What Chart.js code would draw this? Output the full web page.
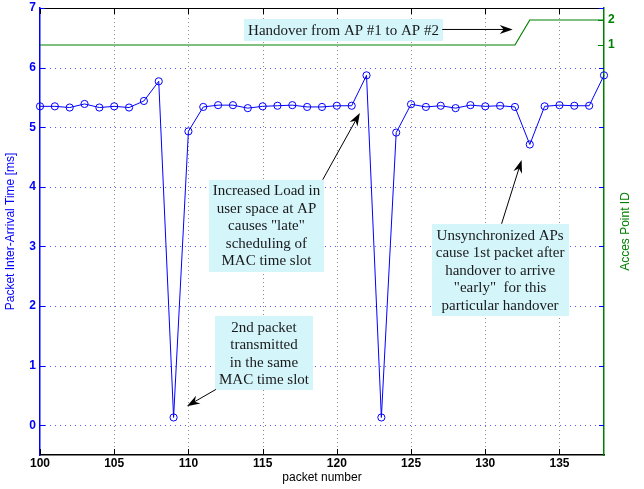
<!DOCTYPE html>
<html>
<head>
<meta charset="utf-8">
<script src="https://cdn.jsdelivr.net/npm/chart.js@4.4.1/dist/chart.umd.min.js"></script>
<style>
  body { margin: 0; background: #fff; }
  #wrap { width: 644px; height: 489px; }
</style>
</head>
<body>
<div id="wrap"><canvas id="c" width="644" height="489"></canvas></div>
<script>
const packetNumber = [100, 101, 102, 103, 104, 105, 106, 107, 108, 109,
  110, 111, 112, 113, 114, 115, 116, 117, 118, 119,
  120, 121, 122, 123, 124, 125, 126, 127, 128, 129,
  130, 131, 132, 133, 134, 135, 136, 137, 138];
const interArrivalMs = [5.35, 5.35, 5.33, 5.39, 5.33, 5.35, 5.33, 5.44, 5.77, 0.13,
  4.93, 5.34, 5.37, 5.37, 5.32, 5.35, 5.36, 5.37, 5.34, 5.34,
  5.36, 5.36, 5.87, 0.13, 4.91, 5.385, 5.34, 5.36, 5.32, 5.37,
  5.35, 5.36, 5.34, 4.71, 5.35, 5.37, 5.36, 5.36, 5.87];
const accessPointId = [1, 1, 1, 1, 1, 1, 1, 1, 1, 1,
  1, 1, 1, 1, 1, 1, 1, 1, 1, 1,
  1, 1, 1, 1, 1, 1, 1, 1, 1, 1,
  1, 1, 1, 2, 2, 2, 2, 2, 2];
const apTicks = [1, 2];

const BLUE = '#0000ff';
const GREEN = '#008000';
const SANS = '"Liberation Sans", Arial, sans-serif';

// text boxes with arrows, anchored in data units
const notes = [
  { lines: ['Handover from AP #1 to AP #2'], at: [120.45, 6.63], tail: [127.1, 6.64], tip: [131.85, 6.64] },
  { lines: ['Increased Load in', 'user space at AP', 'causes "late"', 'scheduling of', 'MAC time slot'],
    at: [115.26, 3.35], tail: [119.05, 4.12], tip: [121.55, 5.24] },
  { lines: ['2nd packet', 'transmitted', 'in the same', 'MAC time slot'],
    at: [115.09, 1.21], tail: [111.85, 0.6], tip: [109.9, 0.32] },
  { lines: ['Unsynchronized APs', 'cause 1st packet after', 'handover to arrive', '"early"  for this', 'particular handover'],
    at: [131.0, 2.61], tail: [131.1, 3.38], tip: [132.45, 4.45] }
];

function arrow(ctx, x0, y0, x1, y1) {
  const a = Math.atan2(y1 - y0, x1 - x0);
  const len = 13, half = 4.5;
  ctx.strokeStyle = '#000';
  ctx.fillStyle = '#000';
  ctx.lineWidth = 1;
  ctx.beginPath();
  ctx.moveTo(x0, y0);
  ctx.lineTo(x1 - Math.cos(a) * 8, y1 - Math.sin(a) * 8);
  ctx.stroke();
  ctx.save();
  ctx.translate(x1, y1);
  ctx.rotate(a);
  ctx.beginPath();
  ctx.moveTo(0, 0);
  ctx.lineTo(-len, -half);
  ctx.lineTo(-len + 4, 0);
  ctx.lineTo(-len, half);
  ctx.closePath();
  ctx.fill();
  ctx.restore();
}

const decor = {
  id: 'decor',
  beforeDatasetsDraw(chart) {
    // dotted grid, matlab style
    const ctx = chart.ctx;
    const { left, right, top, bottom } = chart.chartArea;
    const x = chart.scales.x, y = chart.scales.y;
    ctx.save();
    ctx.lineWidth = 1;
    ctx.strokeStyle = '#8a8a8a';
    ctx.setLineDash([1, 3]);
    x.ticks.forEach(t => {
      if (t.value === x.min) return;
      const px = Math.round(x.getPixelForValue(t.value)) + 0.5;
      ctx.beginPath();
      ctx.moveTo(px, bottom); ctx.lineTo(px, top);
      ctx.stroke();
    });
    ctx.strokeStyle = '#5555ff';
    ctx.setLineDash([1, 4]);
    y.ticks.forEach(t => {
      if (t.value === y.max) return;
      const py = Math.round(y.getPixelForValue(t.value)) + 0.5;
      ctx.beginPath();
      ctx.moveTo(left, py); ctx.lineTo(right, py);
      ctx.stroke();
    });
    ctx.restore();
  },
  afterDatasetsDraw(chart) {
    const ctx = chart.ctx;
    const { left, right, top, bottom } = chart.chartArea;
    const x = chart.scales.x, y = chart.scales.y, y2 = chart.scales.y2;
    ctx.save();

    // frame and inward ticks
    ctx.lineWidth = 1;
    ctx.strokeStyle = '#000';
    ctx.beginPath();
    ctx.moveTo(left, top + 0.5);
    ctx.lineTo(right, top + 0.5);
    ctx.stroke();
    x.ticks.forEach(t => {
      const px = Math.round(x.getPixelForValue(t.value)) + 0.5;
      ctx.beginPath();
      ctx.moveTo(px, top); ctx.lineTo(px, top + 6);
      ctx.moveTo(px, bottom); ctx.lineTo(px, bottom - 6);
      ctx.stroke();
    });
    ctx.strokeStyle = BLUE;
    y.ticks.forEach(t => {
      const py = Math.round(y.getPixelForValue(t.value)) + 0.5;
      ctx.beginPath();
      ctx.moveTo(left, py); ctx.lineTo(left + 5, py);
      ctx.moveTo(right, py); ctx.lineTo(right - 5, py);
      ctx.stroke();
    });
    ctx.strokeStyle = GREEN;
    y2.ticks.forEach(t => {
      const py = Math.round(y2.getPixelForValue(t.value)) + 0.5;
      ctx.beginPath();
      ctx.moveTo(right, py); ctx.lineTo(right - 6, py);
      ctx.stroke();
    });

    // right axis title, reading bottom to top
    ctx.save();
    ctx.translate(right + 21.5, (top + bottom) / 2);
    ctx.rotate(-Math.PI / 2);
    ctx.fillStyle = GREEN;
    ctx.font = '12px ' + SANS;
    ctx.textAlign = 'center';
    ctx.textBaseline = 'middle';
    ctx.fillText('Acces Point ID', 0, 0);
    ctx.restore();

    // annotations
    ctx.font = '15px "Liberation Serif", "Times New Roman", serif';
    const lh = 17.5;
    notes.forEach(n => {
      const cx = x.getPixelForValue(n.at[0]);
      const cy = y.getPixelForValue(n.at[1]);
      const w = Math.max(...n.lines.map(s => ctx.measureText(s).width)) + 8;
      const h = n.lines.length * lh + 4;
      ctx.fillStyle = '#d4f5fa';
      ctx.fillRect(Math.round(cx - w / 2), Math.round(cy - h / 2), Math.round(w), Math.round(h));
      ctx.fillStyle = '#1a1a1a';
      ctx.textAlign = 'center';
      ctx.textBaseline = 'middle';
      n.lines.forEach((s, i) => {
        ctx.fillText(s, cx, cy - h / 2 + 2 + lh * (i + 0.5) + 1);
      });
      arrow(ctx, x.getPixelForValue(n.tail[0]), y.getPixelForValue(n.tail[1]),
        x.getPixelForValue(n.tip[0]), y.getPixelForValue(n.tip[1]));
    });
    ctx.restore();
  }
};

function fitVertical(s) {
  s.width = 40;
  s.paddingTop = 0;
  s.paddingBottom = 0;
}

new Chart(document.getElementById('c'), {
  type: 'line',
  data: {
    datasets: [
      {
        label: 'Packet Inter-Arrival Time',
        data: packetNumber.map((p, i) => ({ x: p, y: interArrivalMs[i] })),
        borderColor: BLUE,
        borderWidth: 1,
        pointRadius: 3.6,
        pointBorderWidth: 1,
        pointBorderColor: BLUE,
        pointBackgroundColor: 'rgba(0,0,0,0)',
        tension: 0,
        clip: false,
        yAxisID: 'y'
      },
      {
        label: 'Acces Point ID',
        data: packetNumber.map((p, i) => ({ x: p, y: accessPointId[i] })),
        borderColor: GREEN,
        borderWidth: 1.2,
        pointRadius: 0,
        tension: 0,
        yAxisID: 'y2'
      }
    ]
  },
  options: {
    responsive: false,
    animation: false,
    layout: { padding: { top: 8, left: 0, right: 0, bottom: 0 } },
    plugins: { legend: { display: false }, tooltip: { enabled: false } },
    scales: {
      x: {
        type: 'linear',
        min: 100,
        max: 138,
        afterFit: s => { s.height = 34; s.paddingLeft = 0; s.paddingRight = 0; },
        ticks: { stepSize: 5, includeBounds: false, color: '#000', padding: 1,
          font: { family: SANS, size: 12, weight: 'bold' } },
        grid: { display: false, drawTicks: false },
        border: { color: '#000', width: 1.5 },
        title: { display: true, text: 'packet number', color: '#000', padding: { top: 0, bottom: 4 },
          font: { family: SANS, size: 12 } }
      },
      y: {
        position: 'left',
        min: -0.5,
        max: 7,
        afterFit: fitVertical,
        ticks: { stepSize: 1, includeBounds: false, color: BLUE, padding: 4,
          font: { family: SANS, size: 12, weight: 'bold' } },
        grid: { display: false, drawTicks: false },
        border: { color: BLUE, width: 1.5 },
        title: { display: true, text: 'Packet Inter-Arrival Time [ms]', color: BLUE, padding: { top: 3, bottom: 0 },
          font: { family: SANS, size: 12 } }
      },
      y2: {
        position: 'right',
        min: -15.4,
        max: 2.48,
        afterFit: fitVertical,
        afterBuildTicks: s => { s.ticks = apTicks.map(v => ({ value: v })); },
        ticks: { color: GREEN, padding: 4,
          font: { family: SANS, size: 12, weight: 'bold' } },
        grid: { display: false, drawTicks: false },
        border: { color: GREEN, width: 1.5 }
      }
    }
  },
  plugins: [decor]
});
</script>
</body>
</html>
